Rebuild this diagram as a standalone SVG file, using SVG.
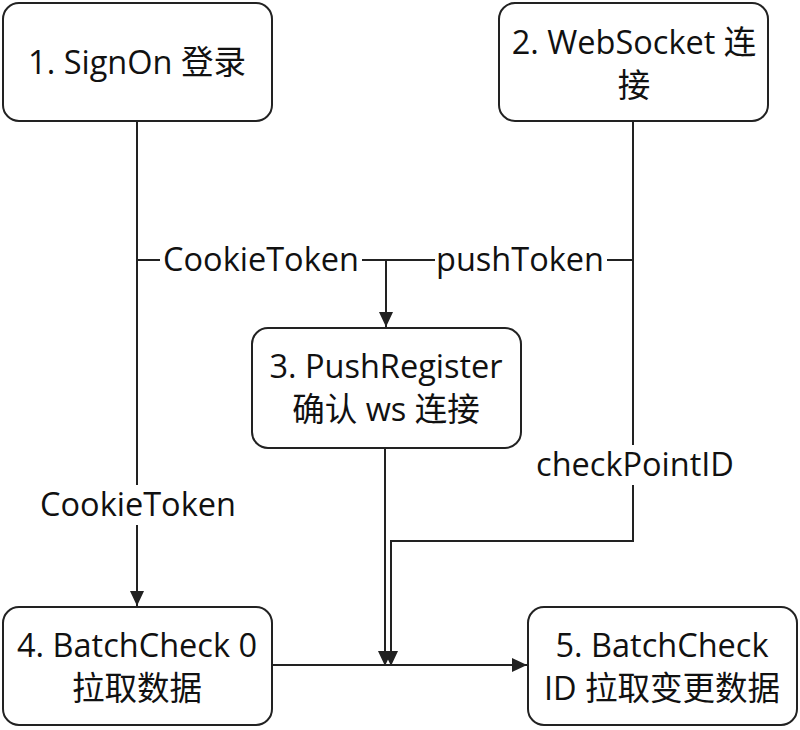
<svg xmlns="http://www.w3.org/2000/svg" width="800" height="730" viewBox="0 0 800 730">
<style>
.box{fill:#fff;stroke:#222;stroke-width:2}
.t{font-family:"Open Sans","Noto Sans CJK SC",sans-serif;font-size:32.5px;fill:#111;text-anchor:middle}
.ln{fill:none;stroke:#222;stroke-width:2}
.bg{fill:#fff}
</style>
<defs>
<marker id="ah" markerUnits="userSpaceOnUse" markerWidth="16" markerHeight="14" refX="15" refY="7" orient="auto">
<path d="M0,0 L15,7 L0,14 Z" fill="#222"/>
</marker>
</defs>
<g id="connectors">
<path class="ln" d="M137,121 V260 H633"/>
<path class="ln" d="M633,121 V541 H391 V666" marker-end="url(#ah)"/>
<path class="ln" d="M386,260 V327" marker-end="url(#ah)"/>
<path class="ln" d="M137,260 V606" marker-end="url(#ah)"/>
<path class="ln" d="M385,448 V666" marker-end="url(#ah)"/>
<path class="ln" d="M273,665 H527" marker-end="url(#ah)"/>
<rect class="bg" x="160" y="240" width="202" height="40"/>
<rect class="bg" x="435" y="240" width="172" height="40"/>
<rect class="bg" x="532" y="445" width="206" height="40"/>
<rect class="bg" x="36" y="485" width="204" height="40"/>
<text class="t" x="261" y="271">CookieToken</text>
<text class="t" x="520" y="271">pushToken</text>
<text class="t" x="635" y="476">checkPointID</text>
<text class="t" x="138" y="516">CookieToken</text>
</g>
<g id="node1">
<rect class="box" x="3" y="3" width="269" height="118" rx="16"/>
<text class="t" x="137" y="74">1. SignOn 登录</text>
</g>
<g id="node2">
<rect class="box" x="499" y="3" width="269" height="118" rx="16"/>
<text class="t" x="634" y="54">2. WebSocket 连</text>
<text class="t" x="634" y="97">接</text>
</g>
<g id="node3">
<rect class="box" x="252" y="328" width="269" height="120" rx="16"/>
<text class="t" x="386" y="378">3. PushRegister</text>
<text class="t" x="386" y="421">确认 ws 连接</text>
</g>
<g id="node4">
<rect class="box" x="3" y="607" width="269" height="118" rx="16"/>
<text class="t" x="137" y="657">4. BatchCheck 0</text>
<text class="t" x="137" y="700">拉取数据</text>
</g>
<g id="node5">
<rect class="box" x="528" y="607" width="269" height="118" rx="16"/>
<text class="t" x="662" y="657">5. BatchCheck</text>
<text class="t" x="662" y="700">ID 拉取变更数据</text>
</g>
</svg>
